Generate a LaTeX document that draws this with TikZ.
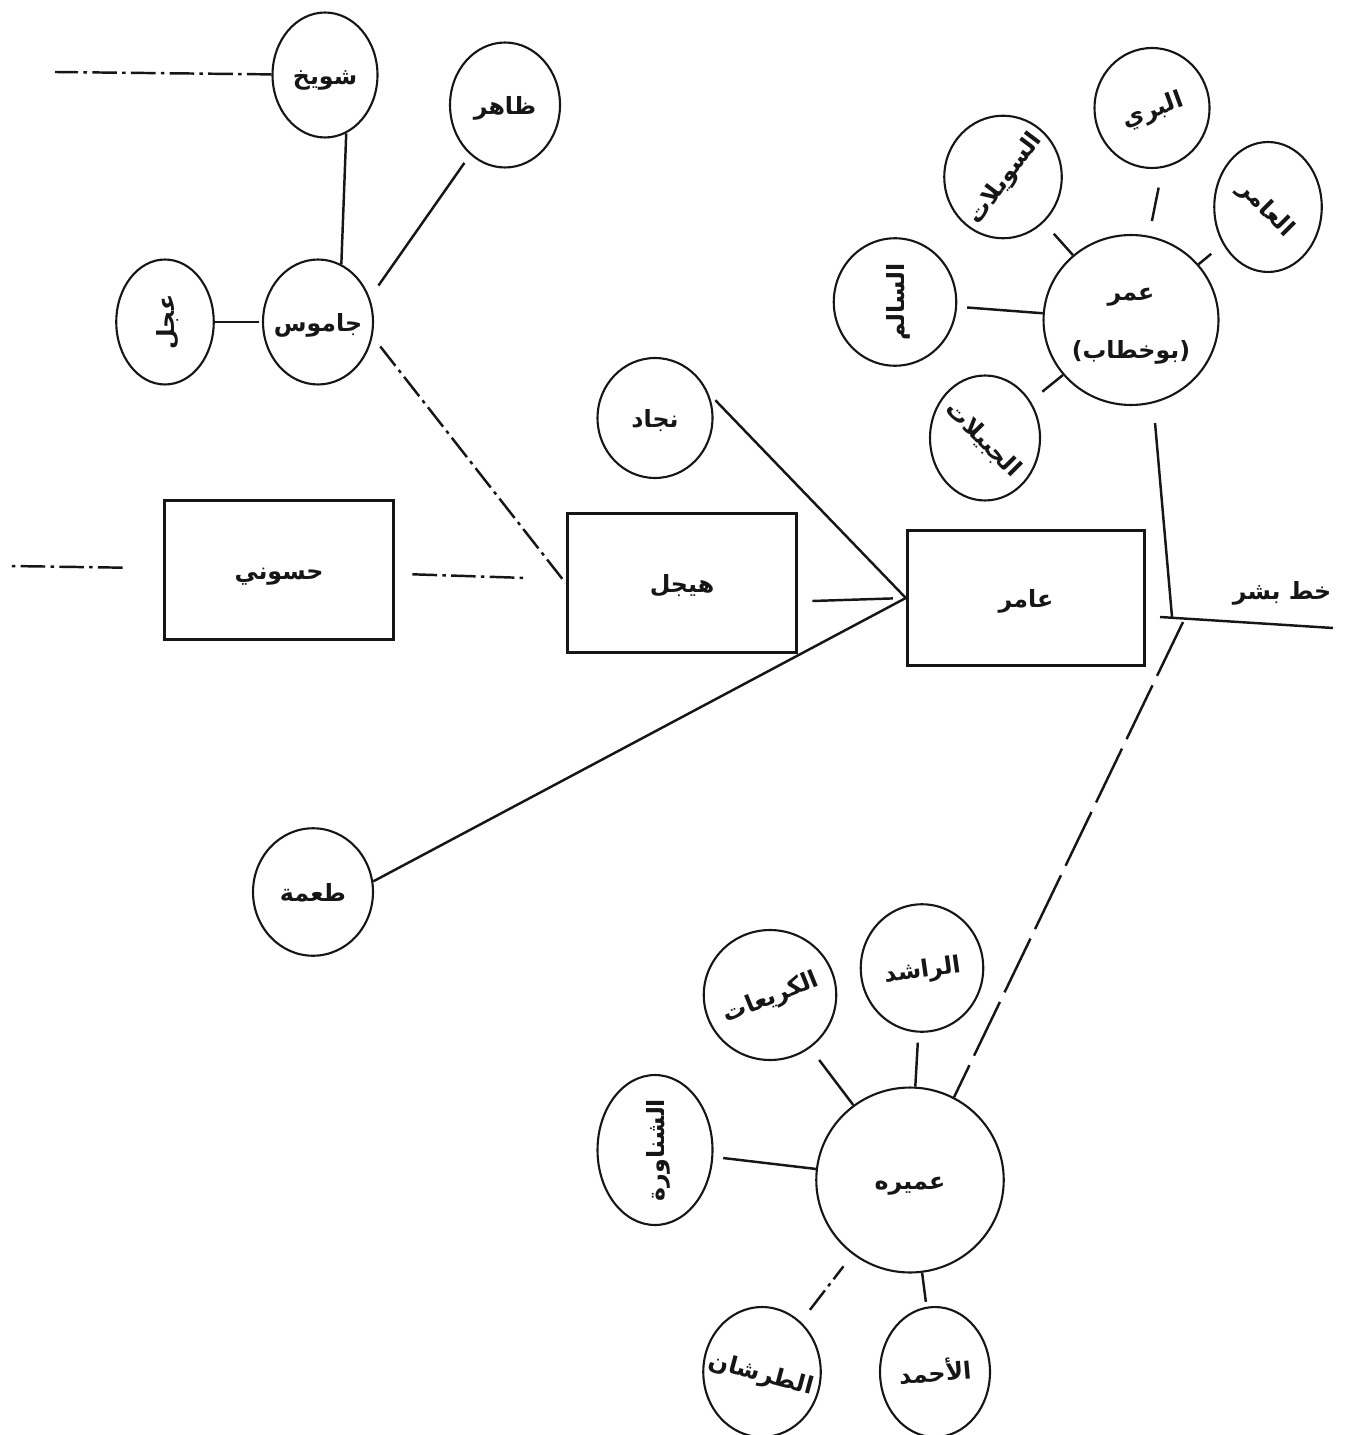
\documentclass[tikz,border=0pt]{standalone}
\usepackage{fontspec}
\usepackage{tikz}
\usetikzlibrary{positioning,shapes.geometric}
\TeXXeTstate=1
\newfontfamily\arabicfont[Script=Arabic]{DejaVu Sans}
\newcommand{\clantext}[2][0]{\rotatebox[origin=c]{#1}{\makebox[0pt]{\raisebox{-0.4em}[0pt][0pt]{\beginR #2\endR}}}}
\definecolor{clanink}{RGB}{22,22,22}
\tikzset{
  clan/.style={ellipse,draw=clanink,line width=1.2pt,inner sep=0pt,minimum width=2.2cm,minimum height=2.5cm,
    font=\arabicfont\bfseries\fontsize{13.5}{18}\selectfont,text=clanink},
  branch/.style={rectangle,draw=clanink,line width=1.7pt,inner sep=0pt,minimum width=4.6cm,minimum height=2.8cm,
    font=\arabicfont\bfseries\fontsize{13.5}{18}\selectfont,text=clanink},
  link/.style={draw=clanink,line width=1.4pt},
  brokenlink/.style={link,dash pattern=on 14pt off 3pt on 2pt off 3pt},
  longdash/.style={link,dash pattern=on 34pt off 6pt}
}
\begin{document}
\begin{tikzpicture}[x=0.02cm,y=-0.02cm]
\useasboundingbox (0,0) rectangle (1348,1435);

\node[clan,minimum width=2.1cm] (shwaikh) at (325,75) {\clantext{شويخ}};
\node[clan] (zahir) at (505,105) {\clantext{ظاهر}};
\node[clan,minimum width=1.95cm] (ajal) at (165,322) {\clantext[90]{عجل}};
\node[clan] (jamus) at (318,322) {\clantext{جاموس}};

\node[branch] (hasuni) at (279,570) {\clantext{حسوني}};
\node[branch] (hayjil) at (682,583) {\clantext{هيجل}};
\node[branch,minimum width=4.75cm,minimum height=2.7cm] (amer) at (1026,598) {\clantext{عامر}};
\node[clan,minimum width=2.3cm,minimum height=2.4cm] (najad) at (655,418) {\clantext{نجاد}};
\node[clan,minimum width=2.4cm,minimum height=2.55cm] (tuma) at (313,892) {\clantext{طعمة}};

\node[clan,minimum width=3.5cm,minimum height=3.4cm,align=center] (omar) at (1131,320) {\clantext{عمر}\\[1.1em]\clantext{(بوخطاب)}};
\node[clan,minimum width=2.3cm,minimum height=2.4cm] (albari) at (1152,108) {\clantext[20]{البري}};
\node[clan,minimum width=2.15cm,minimum height=2.6cm] (alamer) at (1268,207) {\clantext[-45]{العامر}};
\node[clan,minimum width=2.35cm,minimum height=2.45cm] (suwailat) at (1003,177) {\clantext[53]{السويلات}};
\node[clan,minimum width=2.45cm,minimum height=2.55cm] (salim) at (895,302) {\clantext[90]{السالم}};
\node[clan,minimum width=2.2cm,minimum height=2.5cm] (jubailat) at (985,438) {\clantext[-45]{الجبيلات}};

\node[clan,minimum width=3.75cm,minimum height=3.7cm] (omaira) at (910,1180) {\clantext{عميره}};
\node[clan,minimum width=2.45cm,minimum height=2.55cm] (rashid) at (922,968) {\clantext[8]{الراشد}};
\node[clan,minimum width=2.65cm,minimum height=2.6cm] (kraiat) at (770,995) {\clantext[22]{الكريعات}};
\node[clan,minimum width=2.3cm,minimum height=3cm] (shnawra) at (655,1150) {\clantext[90]{الشناورة}};
\node[clan,minimum width=2.35cm,minimum height=2.6cm] (tarshan) at (762,1372) {\clantext[-15]{الطرشان}};
\node[clan,minimum width=2.2cm,minimum height=2.6cm] (ahmad) at (935,1372) {\clantext[5]{الأحمد}};

\node[font=\arabicfont\bfseries\fontsize{13.5}{18}\selectfont,text=clanink] (bishr) at (1282,590) {\clantext{خط بشر}};
\coordinate (bishrW) at (1160,617);
\coordinate (bishrE) at (1333,628);
\coordinate (omarfoot) at (1172,617);
\coordinate (omairahead) at (1183,622);
\coordinate (shwaikhtail) at (55,72);
\coordinate (hasunitail) at (10,566);

\draw[brokenlink] (shwaikh) -- (shwaikhtail);
\draw[link] (jamus.68) -- (shwaikh.-70);
\draw[link,shorten <=0.3cm,shorten >=0.2cm] (jamus.25) -- (zahir);
\draw[link,shorten <=0.05cm] (jamus) -- (ajal);
\draw[brokenlink,shorten <=0.25cm] (jamus.-15) -- (hayjil.west);
\draw[brokenlink,shorten <=0.8cm] (hasuni) -- (hasunitail);
\draw[brokenlink,shorten <=0.34cm,shorten >=0.78cm] (hasuni) -- (hayjil);
\draw[link,shorten <=0.28cm,shorten >=0.26cm] (hayjil.-9) -- (amer.west);
\draw[link,shorten <=0.2cm] (najad.25) -- (amer.west);
\draw[link] (tuma.10) -- (amer.west);

\draw[link,shorten <=0.4cm,shorten >=0.3cm] (albari.-80) -- (omar.78);
\draw[link,shorten <=0.3cm] (alamer) -- (omar);
\draw[link,shorten <=0.3cm] (suwailat) -- (omar);
\draw[link,shorten <=0.2cm] (salim) -- (omar);
\draw[link,shorten <=0.3cm] (jubailat) -- (omar);
\draw[link,shorten <=0.4cm] (omar.-75) -- (omarfoot);
\draw[link] (bishrW) -- (bishrE);
\draw[longdash] (omairahead) -- (omaira.62);

\draw[link,shorten <=0.2cm] (rashid) -- (omaira);
\draw[link,shorten <=0.3cm] (kraiat) -- (omaira);
\draw[link,shorten <=0.2cm] (shnawra) -- (omaira);
\draw[brokenlink,shorten <=0.3cm,shorten >=0.3cm] (tarshan) -- (omaira);
\draw[link,shorten <=0.1cm] (ahmad) -- (omaira);
\end{tikzpicture}
\end{document}
